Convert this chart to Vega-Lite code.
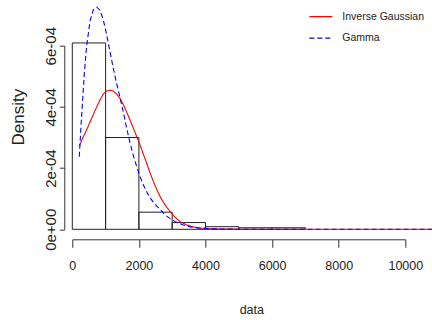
{
  "$schema": "https://vega.github.io/schema/vega-lite/v6.json",
  "width": 333,
  "height": 183.6,
  "autosize": "none",
  "padding": {"left": 72.3, "top": 45.7, "right": 26.7, "bottom": 90.7},
  "background": "white",
  "config": {
    "view": {"stroke": null},
    "font": "Liberation Sans",
    "legend": {
      "orient": "none",
      "legendX": 236,
      "legendY": -41.5,
      "symbolType": "stroke",
      "symbolSize": 529,
      "symbolStrokeWidth": 1.2,
      "labelFont": "Liberation Sans",
      "labelFontSize": 10.5,
      "labelColor": "#222",
      "labelOffset": 9,
      "rowPadding": 3.5,
      "padding": 0,
      "title": null
    }
  },
  "datasets": {
    "bars": [
      {"bin_start": 0, "bin_end": 1000, "density": 0.000609},
      {"bin_start": 1000, "bin_end": 2000, "density": 0.000300},
      {"bin_start": 2000, "bin_end": 3000, "density": 0.000056},
      {"bin_start": 3000, "bin_end": 4000, "density": 0.000022},
      {"bin_start": 4000, "bin_end": 5000, "density": 0.0000085},
      {"bin_start": 5000, "bin_end": 6000, "density": 0.000005},
      {"bin_start": 6000, "bin_end": 7000, "density": 0.000005}
    ],
    "curves": [
      {"dist": "Inverse Gaussian", "x": 210, "y": 0.000272},
      {"dist": "Inverse Gaussian", "x": 320, "y": 0.000300},
      {"dist": "Inverse Gaussian", "x": 432, "y": 0.000325},
      {"dist": "Inverse Gaussian", "x": 530, "y": 0.000350},
      {"dist": "Inverse Gaussian", "x": 631, "y": 0.000375},
      {"dist": "Inverse Gaussian", "x": 733, "y": 0.000400},
      {"dist": "Inverse Gaussian", "x": 833, "y": 0.000423},
      {"dist": "Inverse Gaussian", "x": 933, "y": 0.000442},
      {"dist": "Inverse Gaussian", "x": 1033, "y": 0.000452},
      {"dist": "Inverse Gaussian", "x": 1133, "y": 0.000455},
      {"dist": "Inverse Gaussian", "x": 1233, "y": 0.000452},
      {"dist": "Inverse Gaussian", "x": 1334, "y": 0.000442},
      {"dist": "Inverse Gaussian", "x": 1434, "y": 0.000428},
      {"dist": "Inverse Gaussian", "x": 1534, "y": 0.000407},
      {"dist": "Inverse Gaussian", "x": 1634, "y": 0.000383},
      {"dist": "Inverse Gaussian", "x": 1734, "y": 0.000357},
      {"dist": "Inverse Gaussian", "x": 1835, "y": 0.000330},
      {"dist": "Inverse Gaussian", "x": 1935, "y": 0.000303},
      {"dist": "Inverse Gaussian", "x": 2035, "y": 0.000275},
      {"dist": "Inverse Gaussian", "x": 2135, "y": 0.000245},
      {"dist": "Inverse Gaussian", "x": 2236, "y": 0.000215},
      {"dist": "Inverse Gaussian", "x": 2335, "y": 0.000184},
      {"dist": "Inverse Gaussian", "x": 2436, "y": 0.000156},
      {"dist": "Inverse Gaussian", "x": 2537, "y": 0.000130},
      {"dist": "Inverse Gaussian", "x": 2636, "y": 0.000107},
      {"dist": "Inverse Gaussian", "x": 2737, "y": 0.000088},
      {"dist": "Inverse Gaussian", "x": 2837, "y": 0.000072},
      {"dist": "Inverse Gaussian", "x": 2937, "y": 0.000058},
      {"dist": "Inverse Gaussian", "x": 3037, "y": 0.000045},
      {"dist": "Inverse Gaussian", "x": 3137, "y": 0.000034},
      {"dist": "Inverse Gaussian", "x": 3237, "y": 0.000025},
      {"dist": "Inverse Gaussian", "x": 3437, "y": 0.000014},
      {"dist": "Inverse Gaussian", "x": 3637, "y": 0.000008},
      {"dist": "Inverse Gaussian", "x": 3838, "y": 0.000004},
      {"dist": "Inverse Gaussian", "x": 4200, "y": 0.0000015},
      {"dist": "Inverse Gaussian", "x": 5000, "y": 0.0000003},
      {"dist": "Inverse Gaussian", "x": 6000, "y": 0.00000005},
      {"dist": "Inverse Gaussian", "x": 8000, "y": 0},
      {"dist": "Inverse Gaussian", "x": 10800, "y": 0},
      {"dist": "Gamma", "x": 210, "y": 0.000237},
      {"dist": "Gamma", "x": 260, "y": 0.000335},
      {"dist": "Gamma", "x": 312, "y": 0.000425},
      {"dist": "Gamma", "x": 361, "y": 0.000510},
      {"dist": "Gamma", "x": 432, "y": 0.000600},
      {"dist": "Gamma", "x": 532, "y": 0.000680},
      {"dist": "Gamma", "x": 633, "y": 0.000718},
      {"dist": "Gamma", "x": 733, "y": 0.000726},
      {"dist": "Gamma", "x": 833, "y": 0.000716},
      {"dist": "Gamma", "x": 933, "y": 0.000683},
      {"dist": "Gamma", "x": 1033, "y": 0.000635},
      {"dist": "Gamma", "x": 1133, "y": 0.000580},
      {"dist": "Gamma", "x": 1233, "y": 0.000525},
      {"dist": "Gamma", "x": 1334, "y": 0.000475},
      {"dist": "Gamma", "x": 1434, "y": 0.000430},
      {"dist": "Gamma", "x": 1534, "y": 0.000382},
      {"dist": "Gamma", "x": 1634, "y": 0.000330},
      {"dist": "Gamma", "x": 1734, "y": 0.000282},
      {"dist": "Gamma", "x": 1835, "y": 0.000240},
      {"dist": "Gamma", "x": 1935, "y": 0.000205},
      {"dist": "Gamma", "x": 2035, "y": 0.000172},
      {"dist": "Gamma", "x": 2135, "y": 0.000145},
      {"dist": "Gamma", "x": 2236, "y": 0.000122},
      {"dist": "Gamma", "x": 2335, "y": 0.000103},
      {"dist": "Gamma", "x": 2436, "y": 0.000088},
      {"dist": "Gamma", "x": 2537, "y": 0.000076},
      {"dist": "Gamma", "x": 2636, "y": 0.000065},
      {"dist": "Gamma", "x": 2737, "y": 0.000053},
      {"dist": "Gamma", "x": 2837, "y": 0.000043},
      {"dist": "Gamma", "x": 2937, "y": 0.000035},
      {"dist": "Gamma", "x": 3137, "y": 0.000022},
      {"dist": "Gamma", "x": 3337, "y": 0.000014},
      {"dist": "Gamma", "x": 3537, "y": 0.000008},
      {"dist": "Gamma", "x": 3838, "y": 0.0000035},
      {"dist": "Gamma", "x": 4200, "y": 0.0000015},
      {"dist": "Gamma", "x": 5000, "y": 0.0000002},
      {"dist": "Gamma", "x": 6000, "y": 0},
      {"dist": "Gamma", "x": 10800, "y": 0}
    ]
  },
  "layer": [
    {
      "data": {"name": "bars"},
      "mark": {"type": "rect", "fill": "white", "fillOpacity": 0, "stroke": "#222", "strokeWidth": 1},
      "encoding": {
        "x": {
          "field": "bin_start", "type": "quantitative",
          "scale": {"domain": [0, 10000], "nice": false, "zero": false},
          "axis": {
            "title": "data",
            "values": [0, 2000, 4000, 6000, 8000, 10000],
            "format": "d",
            "offset": 10,
            "grid": false,
            "domainColor": "#333",
            "tickColor": "#333",
            "tickSize": 8,
            "labelFont": "Liberation Sans",
            "labelFontSize": 12.5,
            "labelColor": "#222",
            "labelPadding": 12,
            "labelFlush": false,
            "labelOverlap": false,
            "titleFont": "Liberation Sans",
            "titleFontSize": 12.5,
            "titleFontWeight": "normal",
            "titleColor": "#222",
            "titleX": 179,
            "titleY": 74,
            "titleAlign": "center",
            "titleBaseline": "alphabetic"
          }
        },
        "x2": {"field": "bin_end"},
        "y": {
          "field": "density", "type": "quantitative",
          "scale": {"domain": [0, 0.0006], "nice": false},
          "axis": {
            "title": "Density",
            "values": [0, 0.0002, 0.0004, 0.0006],
            "labelExpr": "datum.value == 0 ? '0e+00' : round(datum.value * 10000) + 'e-04'",
            "offset": 8,
            "grid": false,
            "domainColor": "#333",
            "tickColor": "#333",
            "tickSize": 5,
            "labelAngle": 270,
            "labelAlign": "center",
            "labelBaseline": "alphabetic",
            "labelPadding": 4,
            "labelFont": "Liberation Sans",
            "labelFontSize": 15,
            "labelColor": "#222",
            "labelFlush": false,
            "labelOverlap": false,
            "titleFont": "Liberation Sans",
            "titleFontSize": 17,
            "titleFontWeight": "normal",
            "titleColor": "#222",
            "titleAngle": 270,
            "titleX": -41,
            "titleY": 71,
            "titleAlign": "center",
            "titleBaseline": "alphabetic"
          }
        },
        "y2": {"datum": 0}
      }
    },
    {
      "data": {"name": "curves"},
      "mark": {"type": "line", "strokeWidth": 1.1, "clip": false},
      "encoding": {
        "x": {"field": "x", "type": "quantitative", "title": "data"},
        "y": {"field": "y", "type": "quantitative", "title": "Density"},
        "color": {
          "field": "dist", "type": "nominal",
          "scale": {"domain": ["Inverse Gaussian", "Gamma"], "range": ["red", "blue"]}
        },
        "strokeDash": {
          "field": "dist", "type": "nominal",
          "scale": {"domain": ["Inverse Gaussian", "Gamma"], "range": [[1, 0], [5, 3]]}
        }
      }
    }
  ]
}
